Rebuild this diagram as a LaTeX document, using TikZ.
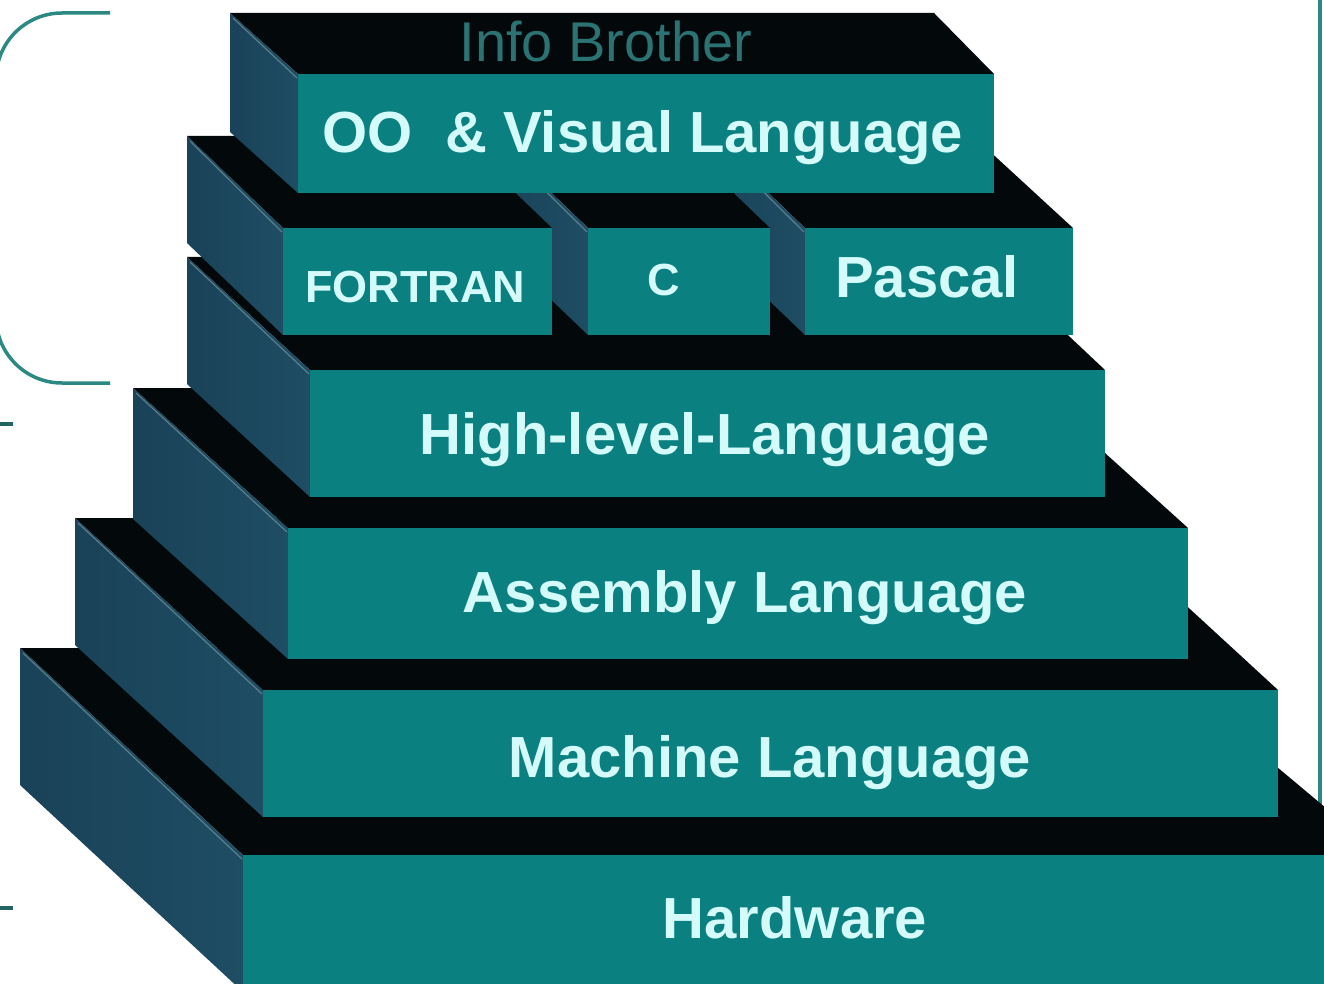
\documentclass[tikz,border=0pt]{standalone}
\usepackage{fontspec}
\setmainfont{Liberation Sans}
\definecolor{frontc}{HTML}{0B8080}
\definecolor{topc}{HTML}{03090B}
\definecolor{sideL}{HTML}{1A4258}
\definecolor{sideR}{HTML}{1E4D64}
\definecolor{txtc}{HTML}{D4FAFA}
\definecolor{brkc}{HTML}{2C8882}
\definecolor{wmc}{HTML}{2B7272}
\definecolor{hlc}{HTML}{6A8E96}
\newcommand\slabdraw[7]{%
  \fill[topface] (#1-#5,#3-#7) -- (#2-#6,#3-#7) -- (#2,#3) -- (#1,#3) -- cycle;
  \shade[sideface] (#1-#5,#3-#7) -- (#1,#3) -- (#1,#4) -- (#1-#5,#4-#7) -- cycle;
  \fill[frontface] (#1,#3) rectangle (#2,#4);
  \draw[edgehl] (#1-#5+3,#3-#7+5) -- (#1-1,#3+4);
}
\begin{document}
\begin{tikzpicture}[x=1pt,y=-1pt,
  topface/.style={fill=topc},
  sideface/.style={left color=sideL,right color=sideR},
  frontface/.style={fill=frontc},
  edgehl/.style={draw=hlc,line width=1.3,opacity=0.75},
  lbl/.style={text=txtc,font=\bfseries\fontsize{58}{61}\selectfont,anchor=base,inner sep=0pt},
  smalllbl/.style={text=txtc,font=\bfseries\fontsize{45}{48}\selectfont,anchor=base,inner sep=0pt},
  wmark/.style={text=wmc,font=\fontsize{56}{58}\selectfont,anchor=base,inner sep=0pt},
  bracketline/.style={draw=brkc,line width=3.5},
  tickline/.style={draw=brkc!75!black,line width=4.5}]
\useasboundingbox (0,0) rectangle (1324,984);
\clip (0,0) rectangle (1324,984);
\fill[white] (0,0) rectangle (1324,984);
% right border line
\draw[bracketline,line width=3.5] (1320,-5) -- (1320,840);
% left bracket and ticks
\draw[bracketline,rounded corners=66] (110,13) -- (-4,13) -- (-4,383) -- (110,383);
\draw[tickline] (-2,424) -- (13,424);
\draw[tickline] (-2,908) -- (13,908);
% slabs: x1, x2, ytop, ybot, dLeft, dRight, dy
\slabdraw{243}{1382}{855}{992}{223}{247}{207}
\slabdraw{263}{1278}{690}{817}{188}{187}{172}
\slabdraw{288}{1188}{528}{659}{155}{155}{140}
\slabdraw{310}{1105}{370}{497}{123}{120}{113}
\slabdraw{805}{1073}{228}{335}{96}{100}{92}
\slabdraw{588}{770}{228}{335}{96}{96}{92}
\slabdraw{283}{552}{228}{335}{96}{96}{92}
\slabdraw{298}{994}{74}{193}{68}{60}{61}
% labels
\node[wmark] (ib) at (606,62) {Info Brother};
\node[lbl] (oo) at (643,153) {OO\ \ \& Visual Language};
\node[smalllbl] (fortran) at (415,302) {FORTRAN};
\node[smalllbl] (clang) at (664,295) {C};
\node[lbl] (pascal) at (927,297) {Pascal};
\node[lbl] (high) at (705,454) {High-level-Language};
\node[lbl] (asm) at (745,612) {Assembly Language};
\node[lbl] (mach) at (770,777) {Machine Language};
\node[lbl] (hw) at (795,938) {Hardware};
\end{tikzpicture}
\end{document}
